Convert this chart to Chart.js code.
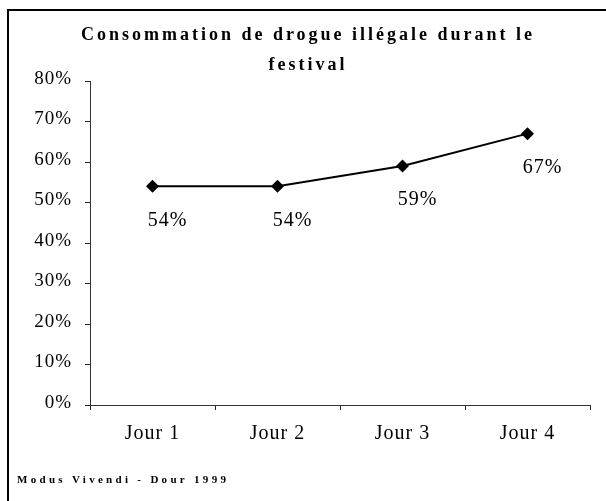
<!DOCTYPE html>
<html>
<head>
<meta charset="utf-8">
<script src="https://cdn.jsdelivr.net/npm/chart.js@4"></script>
<style>
  html, body { margin: 0; padding: 0; background: #fff; }
  canvas { display: block; }
</style>
</head>
<body>
<canvas id="graphique" width="606" height="501"></canvas>
<script>
// Données
const jours = ['Jour 1', 'Jour 2', 'Jour 3', 'Jour 4'];
const consommation = [54, 54, 59, 67];
const graduations = [0, 10, 20, 30, 40, 50, 60, 70, 80];
const titre = ['Consommation de drogue illégale durant le', 'festival'];
const source = 'Modus Vivendi - Dour 1999';

const serif = "'Liberation Serif', 'Times New Roman', serif";

// Cadre, titre, source et étiquettes de valeurs
const decor = {
  id: 'decor',
  beforeDraw(chart) {
    const ctx = chart.ctx;
    ctx.save();
    ctx.fillStyle = '#fff';
    ctx.fillRect(0, 0, chart.width, chart.height);
    ctx.strokeStyle = '#000';
    ctx.lineWidth = 2;
    ctx.strokeRect(8, 10, 700, 600);
    ctx.restore();
    ctx.letterSpacing = '1px';
  },
  afterDatasetsDraw(chart) {
    const ctx = chart.ctx;
    const meta = chart.getDatasetMeta(0);
    ctx.save();
    ctx.font = '20px ' + serif;
    ctx.letterSpacing = '1px';
    ctx.fillStyle = '#000';
    ctx.textAlign = 'center';
    ctx.textBaseline = 'middle';
    meta.data.forEach((pt, i) => {
      ctx.fillText(consommation[i] + '%', pt.x + 15, pt.y + 34);
    });
    ctx.restore();
  },
  afterDraw(chart) {
    const ctx = chart.ctx;
    ctx.save();
    ctx.fillStyle = '#000';
    ctx.textBaseline = 'middle';
    ctx.textAlign = 'center';
    ctx.font = 'bold 18px ' + serif;
    ctx.letterSpacing = '3px';
    ctx.fillText(titre[0], 308, 35);
    ctx.fillText(titre[1], 308, 65);
    ctx.textAlign = 'left';
    ctx.font = 'bold 11px ' + serif;
    ctx.letterSpacing = '3.3px';
    ctx.fillText(source, 17, 480);
    ctx.restore();
  }
};

new Chart(document.getElementById('graphique'), {
  type: 'line',
  data: {
    labels: jours,
    datasets: [{
      data: consommation,
      borderColor: '#000',
      borderWidth: 2,
      backgroundColor: '#000',
      pointStyle: 'rectRot',
      pointRadius: 6.5,
      pointBorderWidth: 0,
      pointBackgroundColor: '#000',
      tension: 0
    }]
  },
  options: {
    responsive: false,
    animation: false,
    events: [],
    layout: { padding: { top: 81, right: 16, bottom: 0, left: 0 } },
    plugins: {
      legend: { display: false },
      title: { display: false },
      tooltip: { enabled: false }
    },
    scales: {
      x: {
        offset: true,
        grid: { offset: true, drawOnChartArea: false, tickLength: 5, color: '#222' },
        border: { color: '#333', width: 1 },
        ticks: { color: '#000', font: { family: serif, size: 20 }, padding: 12 },
        afterFit(s) { s.height = 96; }
      },
      y: {
        min: graduations[0],
        max: graduations[graduations.length - 1],
        afterBuildTicks(s) { s.ticks = graduations.map(v => ({ value: v })); },
        grid: { drawOnChartArea: false, tickLength: 5, color: '#222' },
        border: { color: '#333', width: 1 },
        ticks: {
          color: '#000',
          font: { family: serif, size: 19 },
          padding: 13,
          labelOffset: -2,
          callback: v => v + '%'
        },
        afterFit(s) { s.width = 90; }
      }
    }
  },
  plugins: [decor]
});
</script>
</body>
</html>
